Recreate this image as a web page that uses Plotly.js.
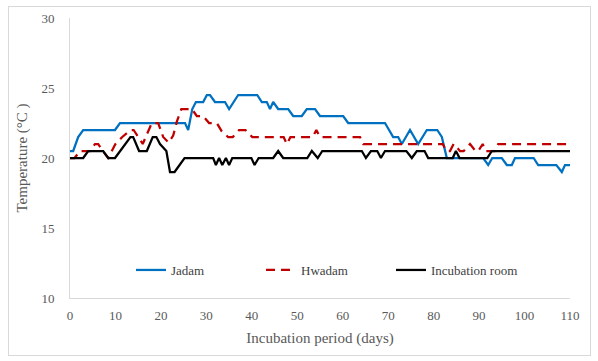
<!DOCTYPE html>
<html>
<head>
<meta charset="utf-8">
<script src="https://cdn.plot.ly/plotly-3.0.1.min.js"></script>
<style>
  html, body { margin: 0; padding: 0; background: #ffffff; }
  #wrap { position: relative; width: 598px; height: 361px; }
  #chart { width: 598px; height: 361px; }
  #frame { position: absolute; left: 8px; top: 6px; width: 581px; height: 348px;
           border: 1px solid #d9d9d9; pointer-events: none; }
</style>
</head>
<body>
<div id="wrap">
  <div id="chart"></div>
  <div id="frame"></div>
</div>
<script>
// ---- data (vertex positions of each line) ----
const seriesNames = ["Jadam", "Hwadam", "Incubation room"];

const jadamDays = [0, 0.7, 1.8, 2.9, 9.9, 11, 25.3, 26, 26.9, 27.7, 29.3, 30.1, 30.8, 31.9, 34.1, 35, 37, 41.2, 42.2, 43.3, 44, 44.7, 45.8, 48, 49.1, 51, 52.1, 53.9, 55, 60.1, 61.2, 69.3, 71.1, 72.2, 73, 74.8, 76.6, 78.5, 80.8, 81.8, 82.9, 90.9, 92, 92.9, 95, 96.1, 97.2, 97.9, 102, 103, 107, 108.2, 108.9, 110];
const jadamTemp = [20.5, 20.5, 21.5, 22, 22, 22.5, 22.5, 22, 23.5, 24, 24, 24.5, 24.5, 24, 24, 23.5, 24.5, 24.5, 24, 24, 23.5, 24, 23.5, 23.5, 23, 23, 23.5, 23.5, 23, 23, 22.5, 22.5, 21.5, 21.5, 21, 22, 21, 22, 22, 21.5, 20, 20, 19.5, 20, 20, 19.5, 19.5, 20, 20, 19.5, 19.5, 19, 19.5, 19.5];

const hwadamDays = [0, 1, 2.2, 4.4, 5.5, 6.2, 7.2, 8.4, 10, 11.5, 13.3, 14, 16, 18, 19.4, 20.5, 21.7, 22.7, 23.5, 24.5, 26.8, 27.9, 29.3, 30.6, 32.3, 33.4, 34.8, 35.8, 37.2, 38.6, 40.1, 47, 47.7, 48.5, 53.4, 54.2, 55, 63.8, 64.5, 82, 82.8, 83.6, 84.4, 85.8, 86.6, 88, 89.2, 89.8, 90.8, 91.4, 93.4, 94.2, 110];
const hwadamTemp = [20, 20, 20.5, 20.5, 21, 21, 20.5, 20, 21, 21.5, 22, 22, 21, 22.5, 22.5, 21.5, 21.1, 21.6, 22.6, 23.5, 23.5, 23, 23, 22.5, 22.5, 21.9, 21.5, 21.5, 22, 22, 21.5, 21.5, 21, 21.5, 21.5, 22, 21.5, 21.5, 21, 21, 20.5, 20.5, 21, 20.5, 20.5, 21, 20.5, 20.5, 21, 20.5, 20.5, 21, 21];

const roomDays = [0, 2.9, 4, 7.3, 8.4, 9.9, 13.3, 13.9, 15.2, 16.9, 18.2, 19, 19.8, 21.2, 22, 23, 25.2, 31.5, 32.1, 32.8, 33.5, 34.3, 35, 35.7, 39.9, 40.6, 41.5, 44.7, 45.8, 46.9, 52.2, 53.2, 54.5, 55.5, 64.2, 65.1, 66.2, 67.6, 68.4, 69.3, 74, 75.2, 76.3, 78, 78.8, 84.2, 84.9, 85.7, 91.8, 92.8, 110];
const roomTemp = [20, 20, 20.5, 20.5, 20, 20, 21.5, 21.5, 20.5, 20.5, 21.5, 21.5, 21, 20.5, 19, 19, 20, 20, 19.5, 20, 19.5, 20, 19.5, 20, 20, 19.5, 20, 20, 20.5, 20, 20, 20.5, 20, 20.5, 20.5, 20, 20.5, 20.5, 20, 20.5, 20.5, 20, 20.5, 20.5, 20, 20, 20.5, 20, 20, 20.5, 20.5];

const xTickVals = [0, 10, 20, 30, 40, 50, 60, 70, 80, 90, 100, 110];
const yTickVals = [10, 15, 20, 25, 30];

// ---- chart ----
const serif = "Liberation Serif";

const traces = [
  { x: jadamDays, y: jadamTemp, name: seriesNames[0], type: "scatter", mode: "lines",
    line: { color: "#0070C0", width: 2.25 } },
  { x: hwadamDays, y: hwadamTemp, name: seriesNames[1], type: "scatter", mode: "lines",
    line: { color: "#C00000", width: 2.25, dash: "9px,6px" } },
  { x: roomDays, y: roomTemp, name: seriesNames[2], type: "scatter", mode: "lines",
    line: { color: "#000000", width: 2.25 } }
];

const layout = {
  width: 598, height: 361,
  margin: { l: 70, r: 28, t: 18, b: 63 },
  paper_bgcolor: "#ffffff", plot_bgcolor: "#ffffff",
  font: { family: serif, color: "#595959" },
  showlegend: true,
  legend: {
    orientation: "h", x: 0.122, xanchor: "left", y: 0.1, yanchor: "middle",
    font: { family: serif, size: 13, color: "#404040" },
    bgcolor: "rgba(0,0,0,0)", entrywidth: 85, entrywidthmode: "pixels"
  },
  xaxis: {
    range: [0, 110], tickvals: xTickVals, ticktext: xTickVals.map(String),
    showline: true, linecolor: "#d9d9d9", linewidth: 1,
    showgrid: false, zeroline: false,
    ticks: "outside", ticklen: 5, tickcolor: "rgba(0,0,0,0)",
    tickfont: { family: serif, size: 13, color: "#595959" },
    title: { text: "Incubation period (days)", font: { family: serif, size: 15, color: "#595959" }, standoff: 10 },
    fixedrange: true
  },
  yaxis: {
    range: [10, 30], tickvals: yTickVals, ticktext: yTickVals.map(String),
    showline: true, linecolor: "#d9d9d9", linewidth: 1,
    showgrid: false, zeroline: false,
    ticks: "outside", ticklen: 12, tickcolor: "rgba(0,0,0,0)",
    tickfont: { family: serif, size: 13, color: "#595959" },
    title: { text: "Temperature (°C )", font: { family: serif, size: 15, color: "#595959" }, standoff: 10 },
    fixedrange: true
  }
};

Plotly.newPlot("chart", traces, layout, { staticPlot: true, displayModeBar: false });
</script>
</body>
</html>
